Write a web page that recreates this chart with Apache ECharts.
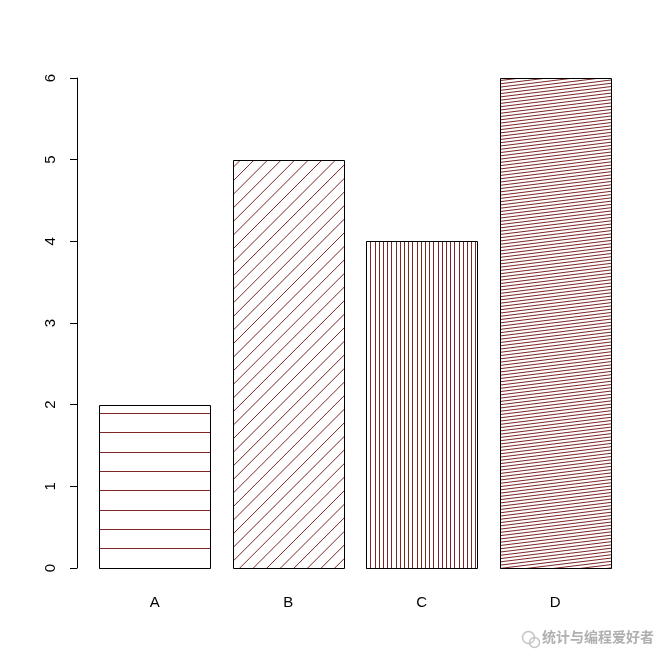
<!DOCTYPE html>
<html>
<head>
<meta charset="utf-8">
<script src="https://cdn.jsdelivr.net/npm/echarts@6/dist/echarts.min.js"></script>
<style>
html,body{margin:0;padding:0;background:#fff;}
#chart{width:672px;height:671px;}
</style>
</head>
<body>
<div id="chart"></div>
<script>
// ---- data ----
const categories = ['A', 'B', 'C', 'D'];
const values = [2, 5, 4, 6];
const yTicks = [0, 1, 2, 3, 4, 5, 6];

// ---- hatch styles (angle in degrees, perpendicular spacing in px) ----
const hatchAngles = [0, 45, 90, 7];
const hatchSpacing = [19.3, 9.6, 4.2, 3.25];
const hatchColor = '#7d2626';

const chart = echarts.init(document.getElementById('chart'), null, {renderer: 'canvas'});

function clipLine(px, py, ux, uy, x0, y0, x1, y1) {
  let tmin = -1e9, tmax = 1e9;
  const p = [-ux, ux, -uy, uy];
  const q = [px - x0, x1 - px, py - y0, y1 - py];
  for (let i = 0; i < 4; i++) {
    if (Math.abs(p[i]) < 1e-12) {
      if (q[i] < 0) return null;
    } else {
      const r = q[i] / p[i];
      if (p[i] < 0) { if (r > tmin) tmin = r; }
      else { if (r < tmax) tmax = r; }
    }
  }
  if (tmin > tmax) return null;
  return [px + tmin * ux, py + tmin * uy, px + tmax * ux, py + tmax * uy];
}

function renderItem(params, api) {
  const idx = params.dataIndex;
  const top = api.coord([api.value(0), api.value(1)]);
  const base = api.coord([api.value(0), 0]);
  const band = api.size([1, 0])[0];
  const barW = band / 1.2;
  const first = api.coord([0, 0]);
  const anchorX = first[0] - band * (0.5 + 1 / 12);
  const anchorY = base[1];
  const x0 = Math.round(top[0] - barW / 2) + 0.5;
  const x1 = Math.round(top[0] + barW / 2) + 0.5;
  const y0 = Math.round(top[1]) + 0.5;
  const y1 = Math.round(base[1]) + 0.5;
  const th = hatchAngles[idx] * Math.PI / 180;
  const d = hatchSpacing[idx];
  const ux = Math.cos(th), uy = -Math.sin(th);
  const nx = Math.sin(th), ny = Math.cos(th);
  const corners = [[x0, y0], [x1, y0], [x0, y1], [x1, y1]];
  let cmin = 1e9, cmax = -1e9;
  corners.forEach(function (c) {
    const v = nx * (c[0] - anchorX) + ny * (c[1] - anchorY);
    cmin = Math.min(cmin, v); cmax = Math.max(cmax, v);
  });
  const children = [];
  for (let k = Math.ceil(cmin / d); k <= Math.floor(cmax / d); k++) {
    const c = k * d;
    const px = anchorX + c * nx, py = anchorY + c * ny;
    const seg = clipLine(px, py, ux, uy, x0, y0, x1, y1);
    if (!seg) continue;
    let s = seg;
    if (hatchAngles[idx] === 0) {
      const yy = Math.round(s[1] - 0.5) + 0.5;
      s = [s[0], yy, s[2], yy];
    } else if (hatchAngles[idx] === 90) {
      const xx = Math.round(s[0] - 0.5) + 0.5;
      s = [xx, s[1], xx, s[3]];
    }
    children.push({
      type: 'line',
      shape: {x1: s[0], y1: s[1], x2: s[2], y2: s[3]},
      style: {stroke: hatchColor, lineWidth: 1}
    });
  }
  children.push({
    type: 'rect',
    shape: {x: x0, y: y0, width: x1 - x0, height: y1 - y0},
    style: {fill: 'none', stroke: '#000', lineWidth: 1}
  });
  return {type: 'group', children: children};
}

const font = "'Liberation Sans', Arial, sans-serif";

chart.setOption({
  animation: false,
  backgroundColor: '#fff',
  grid: {left: 88, width: 534, top: 78, bottom: 103},
  xAxis: {
    type: 'category',
    data: categories,
    axisLine: {show: false},
    axisTick: {show: false},
    axisLabel: {color: '#000', fontSize: 15, fontFamily: font, margin: 27}
  },
  yAxis: {
    type: 'value',
    min: yTicks[0],
    max: yTicks[yTicks.length - 1],
    interval: 1,
    offset: 11,
    splitLine: {show: false},
    axisLine: {show: true, lineStyle: {color: '#000', width: 1}},
    axisTick: {show: true, length: 7, lineStyle: {color: '#000'}},
    axisLabel: {rotate: 90, color: '#000', fontSize: 15, fontFamily: font, margin: 19}
  },
  series: [{
    type: 'custom',
    renderItem: renderItem,
    data: categories.map(function (c, i) { return [i, values[i]]; }),
    encode: {x: 0, y: 1},
    clip: false
  }],
  graphic: [
    {
      type: 'group', left: 520, top: 629,
      children: [
        {type: 'circle', shape: {cx: 8, cy: 9, r: 6}, style: {fill: 'none', stroke: '#c4c4c4', lineWidth: 1.5}},
        {type: 'circle', shape: {cx: 14, cy: 14, r: 5}, style: {fill: 'none', stroke: '#c4c4c4', lineWidth: 1.5}},
        {type: 'text', left: 21, top: 1, style: {text: '统计与编程爱好者', fill: '#b0b0b0', fontSize: 14, fontWeight: 'bold', fontFamily: "'Noto Sans CJK SC', sans-serif", stroke: '#fff', lineWidth: 1}}
      ]
    }
  ]
});
</script>
</body>
</html>
